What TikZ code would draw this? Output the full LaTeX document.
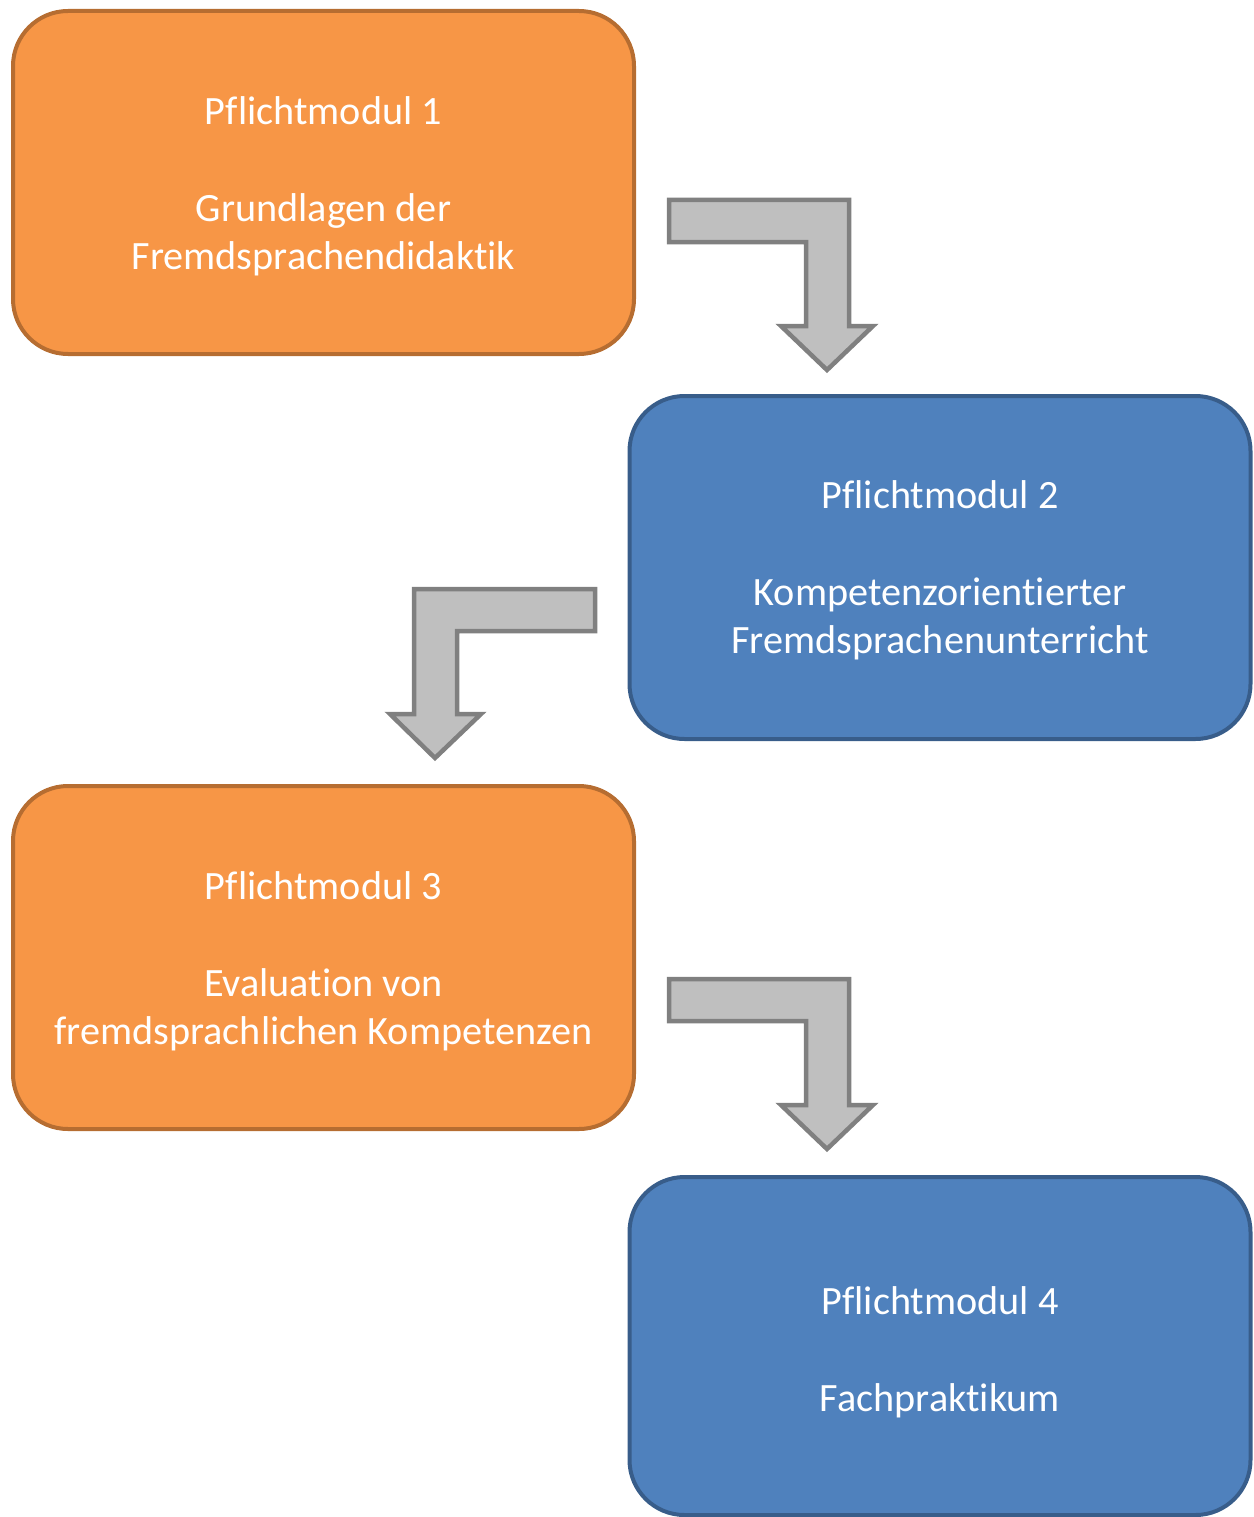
\documentclass[tikz,border=0pt]{standalone}
\usepackage{fontspec}
\setmainfont{Carlito}[Ligatures={NoCommon}]
\definecolor{orfill}{HTML}{F79646}
\definecolor{ordraw}{HTML}{B66D31}
\definecolor{blfill}{HTML}{4F81BD}
\definecolor{bldraw}{HTML}{385D8A}
\definecolor{arfill}{HTML}{BFBFBF}
\definecolor{ardraw}{HTML}{808080}
\tikzset{
  modbox/.style={rectangle, rounded corners=55pt, line width=4pt, minimum width=621pt, minimum height=343pt, inner sep=0pt},
  orbox/.style={modbox, fill=orfill, draw=ordraw},
  blbox/.style={modbox, fill=blfill, draw=bldraw},
  modtext/.style={inner sep=0pt, align=center, text=white, font=\fontsize{40.2}{48.5}\selectfont},
  bentarrow/.style={fill=arfill, draw=ardraw, line width=4.5pt, line join=miter}
}
\begin{document}
\begin{tikzpicture}[x=1pt,y=-1pt]
\useasboundingbox (0,0) rectangle (1253,1517);
\node[orbox] (m1) at (323.5,182.5) {};
\node[blbox] (m2) at (940,567.5) {};
\node[orbox] (m3) at (323.5,957.5) {};
\node[blbox, minimum height=338pt] (m4) at (940,1346) {};
\node[modtext] (t1) at ([yshift=-4pt]m1.center) {Pflichtmodul 1\\[48.5pt]Grundlagen der\\Fremdsprachendidaktik};
\node[modtext] (t2) at ([yshift=-3pt]m2.center) {Pflichtmodul 2\\[48.5pt]Kompetenzorientierter\\Fremdsprachenunterricht};
\node[modtext] (t3) at ([yshift=-4pt]m3.center) {Pflichtmodul 3\\[48.5pt]Evaluation von\\fremdsprachlichen Kompetenzen};
\node[modtext] (t4) at ([yshift=-6pt]m4.center) {Pflichtmodul 4\\[48.5pt]Fachpraktikum};
% bent arrow 1
\draw[bentarrow] (669,200) -- (849,200) -- (849,326) -- (873,326) -- (827,370) -- (781,326) -- (806,326) -- (806,242) -- (669,242) -- cycle;
% bent arrow 2
\draw[bentarrow] (595,589) -- (414,589) -- (414,714) -- (390,714) -- (435,758) -- (481,714) -- (457,714) -- (457,631) -- (595,631) -- cycle;
% bent arrow 3
\draw[bentarrow] (669,979) -- (849,979) -- (849,1105) -- (873,1105) -- (827,1149) -- (781,1105) -- (806,1105) -- (806,1021) -- (669,1021) -- cycle;
\end{tikzpicture}
\end{document}
